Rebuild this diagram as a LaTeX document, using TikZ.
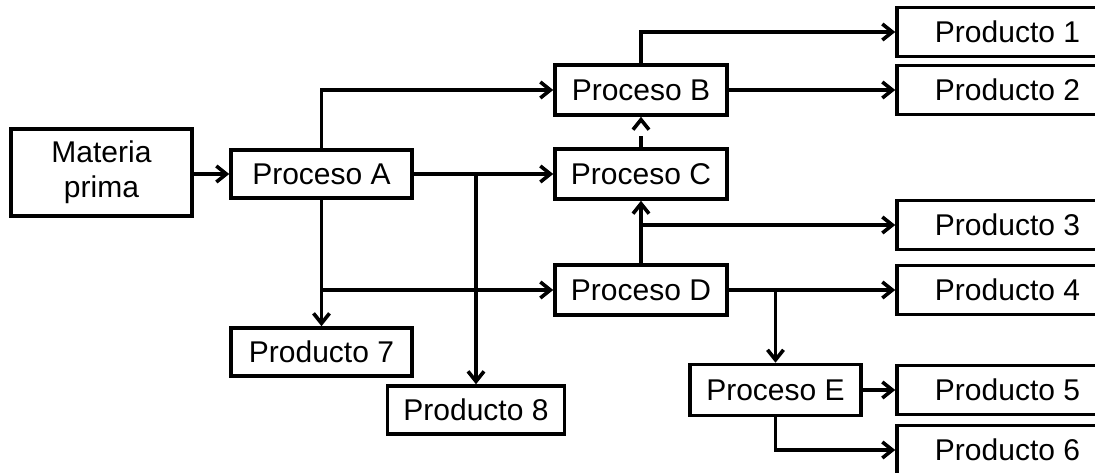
\documentclass[tikz,border=0pt]{standalone}
\usepackage{fontspec}
\setmainfont{Liberation Sans}
\usetikzlibrary{arrows.meta}
\begin{document}
\begin{tikzpicture}[x=1pt,y=-1pt,
  line width=3.6pt,
  box/.style={draw=black, line width=3.6pt, fill=white, inner sep=0pt,
    align=center, font=\fontsize{30}{35}\selectfont},
  proc/.style={box, minimum width=172pt, minimum height=50pt},
  prod/.style={box, minimum width=221pt, minimum height=49pt},
  arr/.style={-{Straight Barb[length=10pt,width=16pt]}, line width=3.6pt}]
  \fill[white] (0,0) rectangle (1095,473);
  \useasboundingbox (0,0) rectangle (1095,473);
  \clip (0,0) rectangle (1095,473);

  % raw material and processes
  \node[box, minimum width=181pt, minimum height=87pt] (M) at (101.5,172.5) {Materia\\prima};
  \node[box, minimum width=181pt, minimum height=48pt] (A) at (321.5,174) {Proceso A};
  \node[proc] (B) at (641,90) {Proceso B};
  \node[proc] (C) at (641,174) {Proceso C};
  \node[proc] (D) at (641,290) {Proceso D};
  \node[proc, minimum width=171pt, minimum height=51pt] (E) at (775.5,390) {Proceso E};

  % products
  \node[prod] (P1) at (1007.5,32) {Producto 1};
  \node[prod] (P2) at (1007.5,90) {Producto 2};
  \node[prod] (P3) at (1007.5,225) {Producto 3};
  \node[prod] (P4) at (1007.5,290) {Producto 4};
  \node[prod] (P5) at (1007.5,390) {Producto 5};
  \node[prod] (P6) at (1007.5,450) {Producto 6};
  \node[box, minimum width=181pt, minimum height=48pt] (P7) at (321.5,352) {Producto 7};
  \node[box, minimum width=177pt, minimum height=48pt] (P8) at (476,410) {Producto 8};

  % flows
  \draw[arr] (M.east |- A.west) -- (A.west);
  \draw[arr] (A.north) |- (B.west);
  \draw[arr] (A.east) -- (C.west);
  \draw[arr] (A.east -| P8.north) -- (P8.north);
  \draw[arr] (A.south) -- (P7.north);
  \draw[arr] (A.south |- D.west) -- (D.west);
  \draw[arr] (B.north) |- (P1.west);
  \draw[arr] (B.east) -- (P2.west);
  \draw[arr, dash pattern=on 11pt off 40pt] (C.north) -- (B.south);
  \draw[arr] (D.north) -- (C.south);
  \draw[arr] (D.north |- P3.west) -- (P3.west);
  \draw[arr] (D.east) -- (P4.west);
  \draw[arr] (D.east -| E.north) -- (E.north);
  \draw[arr] (E.east) -- (P5.west);
  \draw[arr] (E.south) |- (P6.west);
\end{tikzpicture}
\end{document}
